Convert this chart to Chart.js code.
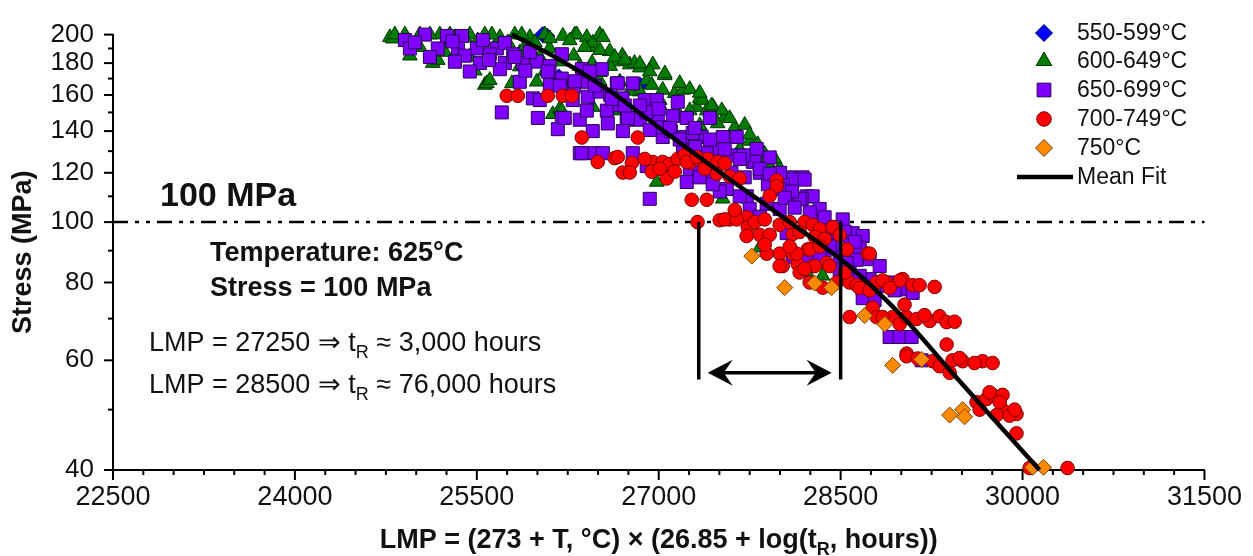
<!DOCTYPE html>
<html>
<head>
<meta charset="utf-8">
<script src="https://cdn.jsdelivr.net/npm/chart.js@4.4.1/dist/chart.umd.min.js"></script>
<style>
    body { margin: 0; background: #fff; }
    canvas { display: block; }
</style>
</head>
<body>
<canvas id="graficoLMP" width="1253" height="556"></canvas>
<script>
// --- Dados (LMP, tensão em MPa) ---
const xTicks = [22500, 24000, 25500, 27000, 28500, 30000, 31500];
const xMinorTicks = [22750, 23000, 23250, 23500, 23750, 24250, 24500, 24750, 25000, 25250,
    25750, 26000, 26250, 26500, 26750, 27250, 27500, 27750, 28000, 28250,
    28750, 29000, 29250, 29500, 29750, 30250, 30500, 30750, 31000, 31250];
const yTicks = [40, 60, 80, 100, 120, 140, 160, 180, 200];
const yMinorTicks = [50, 70, 90, 110, 130, 150, 170, 190];

const serie550 = [[26044, 200], [26077, 199], [26176, 171], [26844, 166]];

const serie600 = [[24783, 198], [24907, 200], [24808, 197], [24948, 185], [25030, 200], [25137, 180], [25178, 182],
    [25195, 200], [25319, 198], [25442, 200], [25483, 175], [25566, 166], [25583, 167], [25607, 169], [25566, 200],
    [25690, 198], [25789, 167], [25813, 200], [25937, 198], [25994, 168], [26061, 200], [26126, 149], [26159, 168],
    [26184, 152], [26200, 151], [26209, 199], [26308, 200], [26324, 200], [26407, 198], [26431, 191], [26456, 194],
    [26456, 153], [26514, 200], [26539, 198], [26596, 188], [26654, 181], [26654, 151], [26761, 179], [26844, 177],
    [26901, 169], [26943, 166], [26951, 179], [26984, 116], [27008, 157], [27033, 163], [27132, 161], [27313, 153],
    [27338, 158], [27363, 157], [27396, 151], [27486, 144], [27528, 109], [27627, 141], [27627, 142], [27833, 91],
    [27857, 122], [27915, 123], [28220, 83], [28352, 82], [25854, 187], [26019, 184], [26184, 181], [26349, 178],
    [26514, 174], [26679, 168], [26844, 162], [27008, 154], [27173, 148], [27338, 143], [27503, 136], [27668, 131],
    [27833, 126], [27997, 122], [25000, 193], [25250, 195], [25700, 193], [25900, 192], [26100, 190], [26300, 185],
    [26450, 180], [26600, 178], [26700, 185], [26800, 180], [27050, 172], [27200, 163], [27450, 153], [27550, 148],
    [27750, 135], [26267, 195.7], [26390, 190.9], [26514, 188.8], [26637, 184.1], [26720, 182.2], [26844, 179.6],
    [26926, 174.5], [27050, 173.2], [27173, 167.1], [27256, 163.5], [27338, 161.2], [27437, 153.9], [27520, 151.1],
    [27585, 146.8], [27709, 143.2], [27750, 138.1], [27816, 133.3], [27874, 128.6], [27956, 126.3], [24824, 200],
    [25113, 200], [25278, 200], [25401, 197.9], [25508, 195.7], [25624, 200], [25756, 194.3], [25871, 200],
    [25978, 194.3], [26102, 197.2], [25030, 190.9], [25236, 187.5], [25442, 184.1], [25854, 177.7], [26061, 174.5],
    [26349, 171.3], [26514, 168.3], [26761, 162.4], [26926, 153.9], [27256, 151.1]];

const serie650 = [[24907, 196], [25071, 200], [25253, 199], [25377, 199], [24948, 190], [25178, 190], [25344, 190],
    [25500, 190], [25665, 190], [25731, 194], [25525, 180], [25607, 186], [25731, 180], [25879, 180], [25994, 181],
    [25690, 176], [26201, 186], [25706, 150], [26003, 147], [26201, 147], [26168, 141], [25962, 158], [26019, 157],
    [26291, 157], [26349, 146], [26349, 129], [26366, 176], [26530, 176], [26415, 159], [26407, 151], [26572, 151],
    [26654, 167], [26786, 167], [26885, 157], [26984, 157], [27157, 156], [26580, 144], [26736, 146], [26843, 146],
    [26992, 147], [27116, 148], [27231, 147], [27421, 147], [27214, 137], [27354, 137], [27528, 137], [27643, 137],
    [27808, 131], [27915, 127], [26366, 129], [26473, 129], [26786, 129], [26901, 123], [27107, 121], [27256, 120],
    [27445, 120], [27561, 113], [27726, 110], [27890, 107], [27973, 117], [28080, 118], [28187, 118], [28220, 110],
    [26926, 109], [27750, 105], [28269, 103], [27833, 102], [26662, 167], [26225, 147], [26456, 140], [26745, 147],
    [27033, 137], [27280, 139], [27396, 129], [27610, 128], [27775, 125], [27338, 120], [26539, 129], [26704, 140],
    [27791, 125], [27709, 118], [28105, 117], [28203, 117], [28022, 115], [27668, 110], [28055, 110], [28269, 110],
    [28327, 105], [28179, 109], [27997, 105], [27231, 116], [27338, 118], [27503, 112], [28517, 101], [28599, 96],
    [28682, 95], [28574, 92], [28657, 91], [28492, 88], [28632, 87], [28105, 88], [28220, 87], [28055, 96],
    [28739, 81], [28822, 80], [28929, 80], [29044, 78], [28682, 78], [28904, 65.4], [28987, 65.4], [29085, 65.4],
    [28574, 83], [28879, 79], [28682, 75.5], [29168, 60], [29094, 77], [27445, 115], [25854, 168], [26102, 166],
    [26514, 162], [26679, 154], [27008, 142], [27503, 131], [27833, 120], [27997, 113], [28162, 109], [28327, 100],
    [28409, 95], [28368, 90], [28492, 84], [28780, 75], [26600, 160], [26700, 158], [26900, 150], [27000, 152],
    [27100, 140], [27200, 130], [27300, 132], [27400, 125], [27500, 125], [27600, 120], [27700, 128], [27900, 115],
    [28000, 120], [28100, 112], [28300, 100], [28400, 98], [28450, 92], [28550, 86], [26200, 170], [26300, 165],
    [26400, 168], [25800, 186], [25900, 175], [26100, 178], [25400, 185], [25600, 182], [25300, 195], [25550, 196],
    [24989, 194.3], [25113, 184.1], [25319, 180.9], [25442, 174.5], [25813, 184.1], [25937, 187.5], [26085, 174.5],
    [26184, 165.6], [26308, 168.3], [26431, 174.5], [26473, 165.6], [26613, 157.7], [26720, 153.9], [26844, 153.9],
    [26926, 140.6], [27091, 141.6], [27173, 135.7], [27297, 141.6], [27421, 135.7], [27544, 130.9], [27668, 126.3],
    [27833, 121.8], [27915, 119.6], [28039, 109.4], [28121, 105.5], [28245, 103.7], [28368, 101.8], [28451, 98.2],
    [28533, 96.5], [28616, 93], [28409, 91.4], [28327, 88.2], [28739, 87.2], [28822, 85], [28657, 82], [28945, 77.7]];

const serie700 = [[25747, 159.5], [25838, 159.5], [26085, 159.5], [26209, 159.5], [26283, 159.5], [26366, 136.7],
    [26827, 136.7], [26497, 124.9], [26637, 126.7], [26662, 127.2], [26778, 124.5], [26703, 120.1], [26761, 120.1],
    [26951, 124.9], [27033, 124.9], [27091, 124], [27157, 126.3], [27214, 128.1], [27256, 124.5], [27338, 126.3],
    [27404, 126.3], [27486, 124.9], [26942, 120.5], [27066, 117.5], [27132, 120.5], [27231, 124.9], [27313, 127.2],
    [27478, 119.6], [27585, 118.4], [27973, 116.7], [27973, 114.2], [27915, 110.2], [27272, 108.6], [27396, 108.6],
    [27320, 100], [27503, 100.7], [27585, 101], [27651, 101.8], [27725, 101.8], [27734, 98.2], [27725, 95],
    [27833, 95.4], [27915, 95.4], [27997, 99], [28105, 95.7], [28203, 100], [28269, 99], [28327, 97.5], [28434, 98.2],
    [27997, 89], [28105, 89], [28228, 90.4], [28269, 85], [28022, 85], [28146, 85.6], [28385, 86], [28162, 83],
    [28550, 90.4], [28723, 89], [27544, 101], [27643, 101], [27890, 89], [28138, 89], [28245, 90.4], [28286, 85],
    [27997, 85], [28245, 80], [28352, 78.5], [28467, 80], [28574, 80], [28632, 79.2], [28797, 80], [28879, 80],
    [29011, 81], [29094, 79.2], [29151, 79.2], [28846, 80.6], [28987, 80.6], [28574, 70.4], [28764, 72.9],
    [28797, 70.4], [28929, 70.4], [28846, 70.4], [28987, 68.6], [29044, 70.4], [29127, 69.9], [29234, 69.4],
    [29316, 70.6], [29374, 69.1], [29374, 63.6], [29044, 61.5], [29044, 60.9], [29135, 60.4], [29258, 59.8],
    [29316, 58.7], [29399, 57.3], [29423, 60], [29506, 59.8], [29671, 59.8], [29753, 59.4], [29621, 51.4],
    [29703, 52], [29753, 52.8], [29835, 52.8], [29646, 50], [29835, 50], [29950, 49.2], [29786, 49], [29950, 45.8],
    [30058, 40.3], [30371, 40.3], [28739, 89], [27627, 104.6], [27791, 100], [27874, 101], [28080, 100],
    [28162, 96.4], [28286, 94.7], [28368, 94], [28492, 95.4], [27874, 92], [28080, 91.4], [28327, 91.4],
    [28203, 84.1], [28409, 85], [28533, 83], [28657, 78.4], [28739, 77.7], [28904, 78.4], [29275, 78.7],
    [29027, 73.7], [29192, 70.9], [29440, 69.2], [29481, 60.5], [29604, 59.4], [29728, 53.3], [29811, 51.4],
    [29893, 48.9], [29934, 50], [26885, 126.3], [27008, 121.8], [27379, 121.8], [27544, 124.3], [27668, 117.5]];

const serie750 = [[27767, 88.2], [28039, 78.5], [28286, 79.8], [28426, 78.5], [28698, 70.8], [28863, 68.6],
    [28929, 58.9], [29168, 60.2], [29399, 49], [29506, 50], [29522, 48.7], [30083, 40.4], [30173, 40.4]];

// curva média
const ajusteLMP = [25789, 26184, 26596, 27008, 27544, 28080, 28599, 29044, 29399, 29728, 30140];
const ajusteTensao = [200, 182.2, 162.4, 141.6, 118.7, 100, 84.1, 69.4, 57.9, 49.1, 40];

// linhas verticais e seta entre LMP 27250 e 28500
const linhasLMP = [27330, 28500];
const linhasTensao = [100, 55.9];
const setaLMP = [27404, 28426];
const setaTensao = 57.3;
const tensaoReferencia = 100;

const FONTE = '"Liberation Sans", Arial, sans-serif';

const pares = s => s.map(p => ({ x: p[0], y: p[1] }));

function serie(label, dados, estilo, cor, borda, raio, ordem) {
    return {
        label: label,
        data: pares(dados),
        pointStyle: estilo,
        pointRadius: raio,
        pointBackgroundColor: cor,
        pointBorderColor: borda,
        pointBorderWidth: 1,
        showLine: false,
        clip: false,
        order: ordem
    };
}

function linhaVertical(lmp) {
    return {
        label: 'v' + lmp,
        data: linhasTensao.map(t => ({ x: lmp, y: t })),
        showLine: true,
        pointRadius: 0,
        borderColor: '#000',
        borderWidth: 3.5,
        clip: false,
        order: 1
    };
}

function texto(ctx, partes, x, y, alinhar) {
    let total = 0;
    partes.forEach(p => { ctx.font = p[1]; total += ctx.measureText(p[0]).width; });
    let cx = alinhar === 'center' ? x - total / 2 : x;
    ctx.textAlign = 'left';
    partes.forEach(p => {
        ctx.font = p[1];
        ctx.fillText(p[0], cx, y + (p[2] || 0));
        cx += ctx.measureText(p[0]).width;
    });
}

function marcador(ctx, estilo, x, y, r, cor, borda) {
    ctx.beginPath();
    if (estilo === 'rectRot') {
        ctx.moveTo(x, y - r); ctx.lineTo(x + r, y); ctx.lineTo(x, y + r); ctx.lineTo(x - r, y);
    } else if (estilo === 'triangle') {
        ctx.moveTo(x, y - r);
        ctx.lineTo(x + r * 0.866, y + r * 0.5);
        ctx.lineTo(x - r * 0.866, y + r * 0.5);
    } else if (estilo === 'rect') {
        const s = r * Math.SQRT1_2;
        ctx.rect(x - s, y - s, 2 * s, 2 * s);
    } else {
        ctx.arc(x, y, r, 0, Math.PI * 2);
    }
    ctx.closePath();
    ctx.fillStyle = cor; ctx.fill();
    ctx.strokeStyle = borda; ctx.lineWidth = 1; ctx.stroke();
}

// --- Anotações, eixos secundários e legenda ---
const anotacoes = {
    id: 'anotacoes',
    beforeDatasetsDraw(chart) {
        const { ctx, chartArea: a, scales: { y } } = chart;
        const yy = y.getPixelForValue(tensaoReferencia);
        ctx.save();
        ctx.strokeStyle = '#000';
        ctx.lineWidth = 2.5;
        ctx.setLineDash([15, 7, 4, 7, 4, 7]);
        ctx.beginPath(); ctx.moveTo(a.left, yy); ctx.lineTo(a.right, yy); ctx.stroke();
        ctx.restore();
    },
    afterDraw(chart) {
        const { ctx, chartArea: a, scales: { x, y } } = chart;
        ctx.save();
        ctx.strokeStyle = '#000';
        ctx.lineWidth = 2;
        // ticks
        xTicks.forEach(v => { const px = x.getPixelForValue(v); ctx.beginPath(); ctx.moveTo(px, a.bottom); ctx.lineTo(px, a.bottom + 10); ctx.stroke(); });
        xMinorTicks.forEach(v => { const px = x.getPixelForValue(v); ctx.beginPath(); ctx.moveTo(px, a.bottom); ctx.lineTo(px, a.bottom + 5); ctx.stroke(); });
        yTicks.forEach(v => { const py = y.getPixelForValue(v); ctx.beginPath(); ctx.moveTo(a.left, py); ctx.lineTo(a.left - 9, py); ctx.stroke(); });
        yMinorTicks.forEach(v => { const py = y.getPixelForValue(v); ctx.beginPath(); ctx.moveTo(a.left, py); ctx.lineTo(a.left - 5, py); ctx.stroke(); });

        // seta dupla
        const ys = y.getPixelForValue(setaTensao);
        const x1 = x.getPixelForValue(setaLMP[0]);
        const x2 = x.getPixelForValue(setaLMP[1]);
        ctx.fillStyle = '#000';
        ctx.lineWidth = 3.5;
        ctx.beginPath(); ctx.moveTo(x1 + 12, ys); ctx.lineTo(x2 - 12, ys); ctx.stroke();
        [[x1, 1], [x2, -1]].forEach(([px, d]) => {
            ctx.beginPath();
            ctx.moveTo(px, ys);
            ctx.lineTo(px + d * 25, ys - 13);
            ctx.lineTo(px + d * 16, ys);
            ctx.lineTo(px + d * 25, ys + 13);
            ctx.closePath(); ctx.fill();
        });

        // textos
        ctx.fillStyle = '#111';
        ctx.textBaseline = 'alphabetic';
        const b34 = 'bold 34px ' + FONTE, b27 = 'bold 27px ' + FONTE, r27 = '27px ' + FONTE, r18 = '18px ' + FONTE;
        texto(ctx, [['100 MPa', b34]], 160, 206);
        texto(ctx, [['Temperature: 625°C', b27]], 210, 261);
        texto(ctx, [['Stress = 100 MPa', b27]], 210, 296);
        texto(ctx, [['LMP = 27250 \u21D2 t', r27], ['R', r18, 7], [' \u2248 3,000 hours', r27]], 149, 351);
        texto(ctx, [['LMP = 28500 \u21D2 t', r27], ['R', r18, 7], [' \u2248 76,000 hours', r27]], 149, 393);

        // título do eixo x
        const b27x = 'bold 27px ' + FONTE, b18 = 'bold 18px ' + FONTE;
        texto(ctx, [['LMP = (273 + T, °C) \u00D7 (26.85 + log(t', b27x], ['R', b18, 7], [', hours))', b27x]],
            (a.left + a.right) / 2, 548, 'center');

        // título do eixo y
        ctx.save();
        ctx.translate(24, (a.top + a.bottom) / 2);
        ctx.rotate(-Math.PI / 2);
        ctx.font = 'bold 27px ' + FONTE;
        ctx.textAlign = 'center';
        ctx.textBaseline = 'middle';
        ctx.fillText('Stress (MPa)', 0, 0);
        ctx.restore();

        // legenda
        const linhasLegenda = [33, 61, 90, 119, 148];
        chart.data.datasets.slice(0, 5).forEach((ds, i) => {
            marcador(ctx, ds.pointStyle, 1044, linhasLegenda[i], ds.pointRadius + 0.5, ds.pointBackgroundColor, ds.pointBorderColor);
            ctx.fillStyle = '#111';
            ctx.font = '23px ' + FONTE;
            ctx.textAlign = 'left';
            ctx.textBaseline = 'middle';
            ctx.fillText(ds.label, 1077, linhasLegenda[i] + 1);
        });
        ctx.strokeStyle = '#000';
        ctx.lineWidth = 4.5;
        ctx.beginPath(); ctx.moveTo(1017, 177); ctx.lineTo(1073, 177); ctx.stroke();
        ctx.fillText('Mean Fit', 1077, 178);
        ctx.restore();
    }
};

new Chart(document.getElementById('graficoLMP'), {
    type: 'scatter',
    data: {
        datasets: [
            serie('550-599°C', serie550, 'rectRot', '#0000ff', '#000066', 8, 7),
            serie('600-649°C', serie600, 'triangle', '#007d00', '#003300', 8.5, 6),
            serie('650-699°C', serie650, 'rect', '#7f00ff', '#2b0055', 9.2, 5),
            serie('700-749°C', serie700, 'circle', '#ff0000', '#7a0000', 6.8, 4),
            serie('750°C', serie750, 'rectRot', '#ff8a00', '#7a4000', 8, 3),
            {
                label: 'Mean Fit',
                data: ajusteLMP.map((v, i) => ({ x: v, y: ajusteTensao[i] })),
                showLine: true,
                pointRadius: 0,
                borderColor: '#000',
                borderWidth: 4.5,
                cubicInterpolationMode: 'monotone',
                clip: false,
                order: 2
            },
            linhaVertical(linhasLMP[0]),
            linhaVertical(linhasLMP[1])
        ]
    },
    options: {
        responsive: false,
        animation: false,
        devicePixelRatio: 1,
        layout: { padding: { top: 22, right: 48, left: 0, bottom: 0 } },
        plugins: {
            legend: { display: false },
            tooltip: { enabled: false }
        },
        scales: {
            x: {
                type: 'linear',
                min: 22500,
                max: 31500,
                afterBuildTicks: s => { s.ticks = xTicks.map(v => ({ value: v })); },
                afterFit: s => { s.height = 86; },
                ticks: { autoSkip: false, maxRotation: 0, padding: 11, color: '#111', font: { family: FONTE, size: 27 }, callback: v => String(v) },
                grid: { drawOnChartArea: false, drawTicks: false },
                border: { display: true, color: '#000', width: 2 }
            },
            y: {
                type: 'logarithmic',
                min: 40,
                max: 200,
                afterBuildTicks: s => { s.ticks = yTicks.map(v => ({ value: v })); },
                afterFit: s => { s.width = 113; },
                ticks: { autoSkip: false, padding: 19, color: '#111', font: { family: FONTE, size: 26 }, callback: v => String(v) },
                grid: { drawOnChartArea: false, drawTicks: false },
                border: { display: true, color: '#000', width: 2 }
            }
        }
    },
    plugins: [anotacoes]
});
</script>
</body>
</html>
